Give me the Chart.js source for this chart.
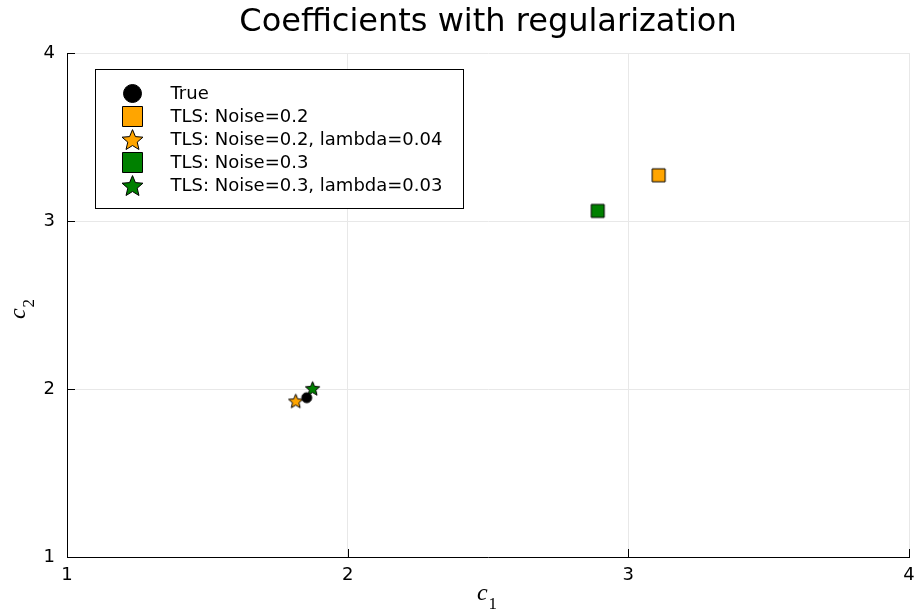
<!DOCTYPE html>
<html>
<head>
<meta charset="utf-8">
<script src="https://cdn.jsdelivr.net/npm/chart.js@4.4.1/dist/chart.umd.min.js"></script>
<style>
  html, body { margin: 0; padding: 0; background: #fff; }
  canvas { display: block; }
</style>
</head>
<body>
<canvas id="chart" width="916" height="613"></canvas>
<script>
// Estimated coefficients (c1, c2) for each fit
const seriesNames = [
  'True',
  'TLS: Noise=0.2',
  'TLS: Noise=0.2, lambda=0.04',
  'TLS: Noise=0.3',
  'TLS: Noise=0.3, lambda=0.03'
];
const c1Values = [1.854, 3.108, 1.815, 2.891, 1.875];
const c2Values = [1.948, 3.272, 1.929, 3.060, 2.004];
const seriesColors = ['#000000', '#FFA500', '#FFA500', '#008000', '#008000'];
const seriesMarkers = ['circle', 'square', 'star', 'square', 'star'];
const axisTicks = [1, 2, 3, 4];

const FONT = '"DejaVu Sans", "Liberation Sans", sans-serif';
const SERIF = '"Liberation Serif", "DejaVu Serif", serif';

// Draw one marker shape centred at (x, y)
function drawMarker(ctx, kind, x, y, size, fill) {
  ctx.save();
  ctx.fillStyle = fill;
  ctx.strokeStyle = '#000';
  ctx.lineWidth = 1;
  ctx.beginPath();
  if (kind === 'circle') {
    ctx.arc(x, y, size / 2, 0, Math.PI * 2);
  } else if (kind === 'square') {
    ctx.rect(x - size / 2, y - size / 2, size, size);
  } else if (kind === 'star') {
    const R = size / 2, r = R * 0.45;
    for (let i = 0; i < 10; i++) {
      const rad = i % 2 === 0 ? R : r;
      const a = -Math.PI / 2 + i * Math.PI / 5;
      const px = x + rad * Math.cos(a), py = y + rad * Math.sin(a) + R * 0.1;
      if (i === 0) ctx.moveTo(px, py); else ctx.lineTo(px, py);
    }
    ctx.closePath();
  }
  ctx.fill();
  ctx.stroke();
  ctx.restore();
}

// Offscreen canvas used as a Chart.js pointStyle image
function markerImage(kind, size, fill) {
  const c = document.createElement('canvas');
  const d = Math.ceil(size + 4);
  c.width = d; c.height = d;
  drawMarker(c.getContext('2d'), kind, d / 2, d / 2, size, fill);
  return c;
}

const plotSizes = { circle: 10, square: 13, star: 15 };
const legendSizes = { circle: 18, square: 20, star: 22 };

const datasets = seriesNames.map((name, i) => ({
  label: name,
  data: [{ x: c1Values[i], y: c2Values[i] }],
  pointStyle: markerImage(seriesMarkers[i], plotSizes[seriesMarkers[i]], seriesColors[i]),
  markerKind: seriesMarkers[i],
  markerColor: seriesColors[i],
  pointRadius: 3,
  pointHoverRadius: 3,
  pointBorderWidth: 0,
  showLine: false
}));

// Short tick marks pointing into the plot area
const innerTicks = {
  id: 'innerTicks',
  afterDraw(chart) {
    const { ctx, chartArea, scales } = chart;
    const len = 8;
    ctx.save();
    ctx.strokeStyle = '#000';
    ctx.lineWidth = 1;
    ctx.beginPath();
    scales.x.ticks.forEach(t => {
      const px = Math.round(scales.x.getPixelForValue(t.value)) + 0.5;
      ctx.moveTo(px, chartArea.bottom);
      ctx.lineTo(px, chartArea.bottom - len);
    });
    scales.y.ticks.forEach(t => {
      const py = Math.round(scales.y.getPixelForValue(t.value)) + 0.5;
      ctx.moveTo(chartArea.left, py);
      ctx.lineTo(chartArea.left + len, py);
    });
    ctx.stroke();
    ctx.restore();
  }
};

// Axis titles: italic c with an upright subscript index
function drawSubscripted(ctx, base, sub) {
  ctx.font = 'italic 24px ' + SERIF;
  const wb = ctx.measureText(base).width;
  ctx.font = '17px ' + SERIF;
  const ws = ctx.measureText(sub).width;
  const gap = 1;
  const total = wb + gap + ws;
  ctx.textBaseline = 'alphabetic';
  ctx.textAlign = 'left';
  ctx.font = 'italic 24px ' + SERIF;
  ctx.fillText(base, -total / 2, 0);
  ctx.font = '17px ' + SERIF;
  ctx.fillText(sub, -total / 2 + wb + gap, 9);
}
const axisTitles = {
  id: 'axisTitles',
  afterDraw(chart) {
    const { ctx, chartArea } = chart;
    const cx = (chartArea.left + chartArea.right) / 2;
    const cy = (chartArea.top + chartArea.bottom) / 2;
    ctx.save();
    ctx.fillStyle = '#000';
    ctx.translate(cx - 1, 600);
    drawSubscripted(ctx, 'c', '1');
    ctx.restore();
    ctx.save();
    ctx.fillStyle = '#000';
    ctx.translate(25, cy + 4);
    ctx.rotate(-Math.PI / 2);
    drawSubscripted(ctx, 'c', '2');
    ctx.restore();
  }
};

// Boxed legend in the upper-left corner of the plot area
const boxedLegend = {
  id: 'boxedLegend',
  afterDraw(chart) {
    const { ctx, chartArea } = chart;
    const x0 = chartArea.left + 28.5, y0 = chartArea.top + 16.5;
    const w = 368, h = 139;
    ctx.save();
    ctx.fillStyle = '#fff';
    ctx.strokeStyle = '#000';
    ctx.lineWidth = 1;
    ctx.fillRect(x0, y0, w, h);
    ctx.strokeRect(x0, y0, w, h);
    ctx.font = '18px ' + FONT;
    ctx.textBaseline = 'middle';
    ctx.textAlign = 'left';
    chart.data.datasets.forEach((ds, i) => {
      const y = y0 + 24 + i * 23;
      drawMarker(ctx, ds.markerKind, x0 + 37, y, legendSizes[ds.markerKind], ds.markerColor);
      ctx.fillStyle = '#000';
      ctx.fillText(ds.label, x0 + 75, y + 1);
    });
    ctx.restore();
  }
};

const tickFont = { family: FONT, size: 18 };

new Chart(document.getElementById('chart'), {
  type: 'scatter',
  data: { datasets },
  plugins: [innerTicks, boxedLegend, axisTitles],
  options: {
    responsive: false,
    animation: false,
    events: [],
    layout: { padding: { left: 0, right: 7, top: 0, bottom: 0 } },
    plugins: {
      legend: { display: false },
      tooltip: { enabled: false },
      title: {
        display: true,
        text: 'Coefficients with regularization',
        fullSize: false,
        color: '#000',
        font: { family: FONT, size: 32, weight: 'normal', lineHeight: 1.2 },
        padding: { top: 3, bottom: 11.6 }
      }
    },
    scales: {
      x: {
        type: 'linear',
        min: 1, max: 4,
        afterBuildTicks: s => { s.ticks = axisTicks.map(v => ({ value: v })); },
        ticks: { font: tickFont, color: '#000', padding: 8 },
        grid: { color: '#e8e8e8', drawTicks: false },
        border: { color: '#000', width: 1 },
        afterFit: s => { s.height = 56; s.paddingLeft = 0; s.paddingRight = 0; }
      },
      y: {
        type: 'linear',
        min: 1, max: 4,
        afterBuildTicks: s => { s.ticks = axisTicks.map(v => ({ value: v })); },
        ticks: { font: tickFont, color: '#000', padding: 12 },
        grid: { color: '#e8e8e8', drawTicks: false },
        border: { color: '#000', width: 1 },
        afterFit: s => { s.width = 67; s.paddingTop = 0; s.paddingBottom = 0; }
      }
    }
  }
});
</script>
</body>
</html>
